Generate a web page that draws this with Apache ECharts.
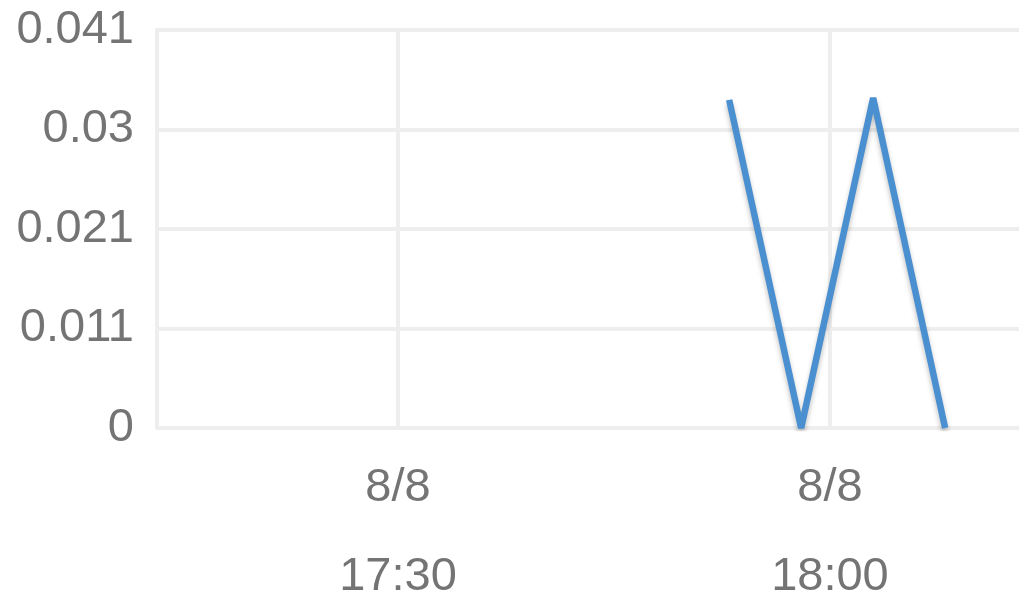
<!DOCTYPE html>
<html>
<head>
<meta charset="utf-8">
<script src="https://cdn.jsdelivr.net/npm/echarts@6/dist/echarts.min.js"></script>
<style>html,body{margin:0;padding:0;background:#fff}#c{width:1019px;height:603px}</style>
</head>
<body>
<div id="c"></div>
<script>
// data
const dateLabel = '8/8';
const pointTimes = ['17:53', '17:58', '18:03', '18:08'];
const pointValues = [0.0338, 0, 0.034, 0];
const xTickTimes = ['17:30', '18:00'];
const yTickLabels = ['0', '0.011', '0.021', '0.03', '0.041'];
const yMax = 0.041;
const xMinTime = '17:13.26';
const xMaxTime = '18:13.13';

function toMin(t) {
  const p = t.split(':');
  return parseInt(p[0], 10) * 60 + parseFloat(p[1]);
}
function fmtTime(m) {
  const h = Math.floor(m / 60), mm = Math.round(m - h * 60);
  return h + ':' + (mm < 10 ? '0' : '') + mm;
}
const yInterval = yMax / (yTickLabels.length - 1);
const seriesData = pointTimes.map((t, i) => [toMin(t), pointValues[i]]);
const font = 'Liberation Sans';
const textColor = '#747474';
const gridColor = '#eeeeee';

const chart = echarts.init(document.getElementById('c'), null, { renderer: 'canvas' });
chart.setOption({
  animation: false,
  grid: { left: 157, right: 0, top: 30, bottom: 175, containLabel: false, outerBoundsMode: 'none' },
  xAxis: {
    type: 'value',
    min: toMin(xMinTime),
    max: toMin(xMaxTime),
    axisLine: { show: false },
    axisTick: { show: false, customValues: xTickTimes.map(toMin) },
    splitLine: { show: true, lineStyle: { color: gridColor, width: 4 } },
    axisLabel: {
      customValues: xTickTimes.map(toMin),
      formatter: v => dateLabel + '\n' + fmtTime(v),
      fontFamily: font, fontSize: 47, color: textColor,
      lineHeight: 89, margin: 16
    }
  },
  yAxis: {
    type: 'value',
    min: 0,
    max: yMax,
    interval: yInterval,
    axisLine: { show: true, lineStyle: { color: gridColor, width: 4 } },
    axisTick: { show: false },
    splitLine: { show: true, lineStyle: { color: gridColor, width: 4 } },
    axisLabel: {
      formatter: v => yTickLabels[Math.round(v / yInterval)],
      fontFamily: font, fontSize: 47, color: textColor, margin: 23,
      padding: [0, 0, 6, 0]
    }
  },
  series: [{
    type: 'line',
    data: seriesData,
    symbol: 'none',
    lineStyle: {
      color: '#4a90d0', width: 6.5,
      shadowColor: 'rgba(0,0,0,0.25)', shadowBlur: 5, shadowOffsetY: 4
    }
  }]
});
</script>
</body>
</html>
